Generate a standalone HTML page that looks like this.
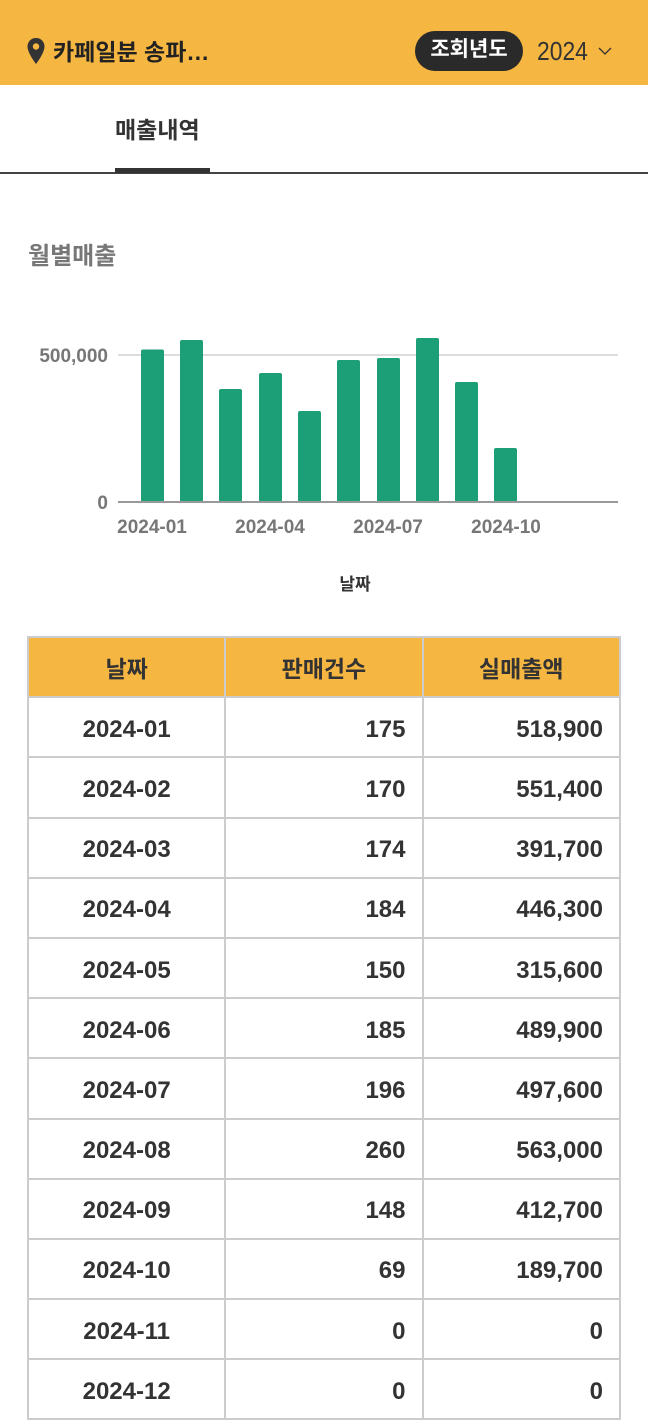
<!DOCTYPE html>
<html><head><meta charset="utf-8"><style>
*{margin:0;padding:0;box-sizing:border-box}
body{width:648px;height:1365px;overflow:hidden;background:#fff;font-family:"Liberation Sans","Noto Sans CJK KR",sans-serif;position:relative;color:#333}
.a{position:absolute}
.hdr{left:0;top:0;width:648px;height:85px;background:#F5B642}
table{position:absolute;left:27px;top:636px;border-collapse:collapse;width:594px}
td,th{border:2px solid #ccc;height:60.2px;font-size:24px;font-weight:bold;color:#333;width:198px}
th{background:#F5B642;font-size:23px;text-align:center}
td{text-align:right;padding-right:16px;padding-top:5px}
td:first-child{text-align:center;padding-right:0}
</style></head><body>
<div class="a hdr"></div>
<svg class="a" style="left:26px;top:37px" width="20" height="28" viewBox="0 0 20 28"><path d="M10 1C5 1 1.5 4.8 1.5 9.5 1.5 16 10 27 10 27S18.5 16 18.5 9.5C18.5 4.8 15 1 10 1z" fill="#333"/><circle cx="10" cy="9.5" r="3.2" fill="#F5B642"/></svg>
<div class="a" style="left:53px;top:33px;font-size:23px;font-weight:bold;color:#222">카페일분 송파…</div>
<div class="a" style="left:415px;top:31px;width:108px;height:40px;border-radius:20px;background:#2a2a2a;color:#fff;font-size:21px;font-weight:bold;text-align:center;line-height:38px">조회년도</div>
<div class="a" style="left:537px;top:36px;font-size:26px;color:#333;transform:scaleX(0.88);transform-origin:left">2024</div>
<svg class="a" style="left:598px;top:46px" width="14" height="10"><path d="M1 2l6 6 6-6" stroke="#333" fill="none" stroke-width="1.3"/></svg>
<div class="a" style="left:115px;top:111px;font-size:23px;font-weight:bold;color:#333">매출내역</div>
<div class="a" style="left:0;top:172px;width:648px;height:2px;background:#444"></div>
<div class="a" style="left:115px;top:168px;width:95px;height:5px;background:#333"></div>
<div class="a" style="left:28px;top:236px;font-size:24px;font-weight:bold;color:#777">월별매출</div>
<svg class="a" style="left:0;top:300px" width="648" height="310">
<line x1="118" y1="55" x2="618" y2="55" stroke="#ddd" stroke-width="2"/>
<g fill="#1C9E76">
<rect x="141" y="49.5" width="23" height="152.5" rx="2"/>
<rect x="180" y="40" width="23" height="162" rx="2"/>
<rect x="219" y="89" width="23" height="113" rx="2"/>
<rect x="259" y="73" width="23" height="129" rx="2"/>
<rect x="298" y="111" width="23" height="91" rx="2"/>
<rect x="337" y="60" width="23" height="142" rx="2"/>
<rect x="377" y="58" width="23" height="144" rx="2"/>
<rect x="416" y="38" width="23" height="164" rx="2"/>
<rect x="455" y="82" width="23" height="120" rx="2"/>
<rect x="494" y="148" width="23" height="54" rx="2"/>
</g>
<line x1="118" y1="202" x2="618" y2="202" stroke="#999" stroke-width="2"/>
<g font-family="Liberation Sans,sans-serif" font-weight="bold" fill="#777" font-size="19">
<text x="108" y="62" text-anchor="end">500,000</text>
<text x="108" y="209" text-anchor="end">0</text>
<text x="152" y="233" text-anchor="middle">2024-01</text>
<text x="270" y="233" text-anchor="middle">2024-04</text>
<text x="388" y="233" text-anchor="middle">2024-07</text>
<text x="506" y="233" text-anchor="middle">2024-10</text>
<text x="355" y="290" text-anchor="middle" fill="#333" font-size="17" font-family="Liberation Sans,Noto Sans CJK KR,sans-serif">날짜</text>
</g>
</svg>
<table>
<tr><th>날짜</th><th>판매건수</th><th>실매출액</th></tr>
<tr><td>2024-01</td><td>175</td><td>518,900</td></tr>
<tr><td>2024-02</td><td>170</td><td>551,400</td></tr>
<tr><td>2024-03</td><td>174</td><td>391,700</td></tr>
<tr><td>2024-04</td><td>184</td><td>446,300</td></tr>
<tr><td>2024-05</td><td>150</td><td>315,600</td></tr>
<tr><td>2024-06</td><td>185</td><td>489,900</td></tr>
<tr><td>2024-07</td><td>196</td><td>497,600</td></tr>
<tr><td>2024-08</td><td>260</td><td>563,000</td></tr>
<tr><td>2024-09</td><td>148</td><td>412,700</td></tr>
<tr><td>2024-10</td><td>69</td><td>189,700</td></tr>
<tr><td>2024-11</td><td>0</td><td>0</td></tr>
<tr><td>2024-12</td><td>0</td><td>0</td></tr>
</table>
</body></html>
